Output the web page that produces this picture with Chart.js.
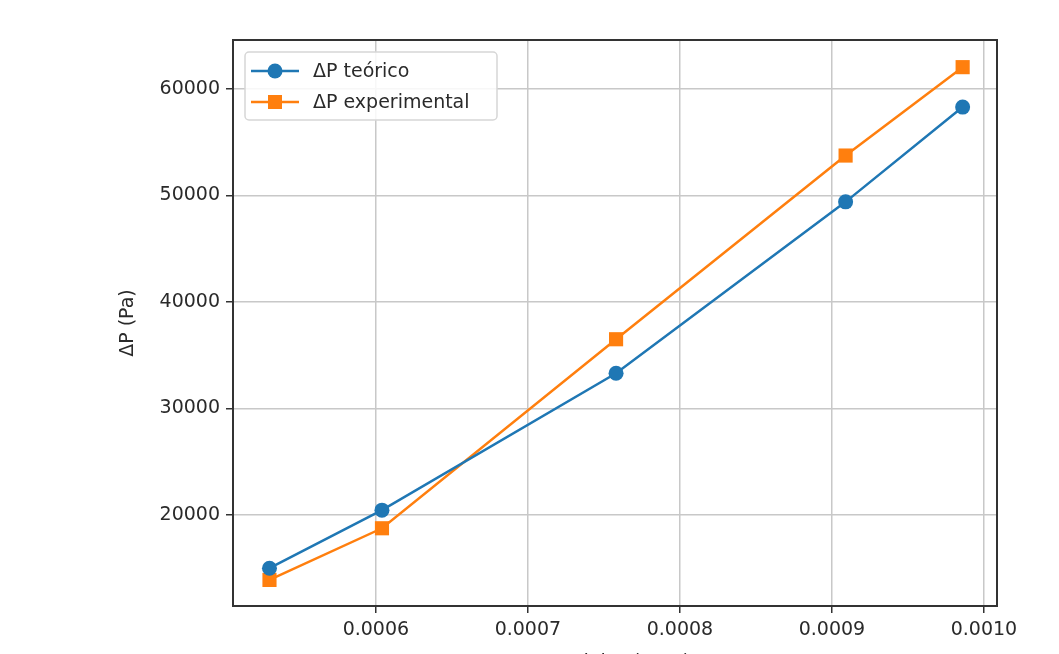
<!DOCTYPE html>
<html>
<head>
<meta charset="utf-8">
<script src="https://cdn.jsdelivr.net/npm/chart.js@4/dist/chart.umd.min.js"></script>
<style>
  html, body { margin: 0; padding: 0; background: #fff; overflow: hidden; }
  canvas { display: block; }
</style>
</head>
<body>
<canvas id="dpChart" width="1059" height="680"></canvas>
<script>
// DATA
const caudal = [0.000530, 0.000604, 0.000758, 0.000909, 0.000986];
const dpTeorico = [15000, 20450, 33300, 49400, 58300];
const dpExperimental = [13900, 18750, 36500, 53750, 62050];
const xTicks = [0.0006, 0.0007, 0.0008, 0.0009, 0.0010];
const yTicks = [20000, 30000, 40000, 50000, 60000];

const FONT = "'DejaVu Sans', sans-serif";
const BLUE = "#1f77b4";
const ORANGE = "#ff7f0e";

// frame around plot area
const frame = {
  id: "frame",
  afterDatasetsDraw(chart) {
    const a = chart.chartArea, ctx = chart.ctx;
    ctx.save();
    ctx.strokeStyle = "#333";
    ctx.lineWidth = 2;
    ctx.strokeRect(a.left, a.top, a.right - a.left, a.bottom - a.top);
    ctx.restore();
  }
};

// matplotlib style legend inside plot (upper left)
const innerLegend = {
  id: "innerLegend",
  afterDraw(chart) {
    const a = chart.chartArea, ctx = chart.ctx;
    const x0 = a.left + 12, y0 = a.top + 12, w = 252, h = 68;
    ctx.save();
    ctx.fillStyle = "rgba(255,255,255,0.85)";
    ctx.strokeStyle = "#d6d6d6";
    ctx.lineWidth = 1.5;
    ctx.beginPath();
    ctx.roundRect(x0, y0, w, h, 4);
    ctx.fill();
    ctx.stroke();
    chart.data.datasets.forEach((ds, i) => {
      const cy = y0 + 19 + i * 31;
      ctx.strokeStyle = ds.borderColor;
      ctx.lineWidth = 2.5;
      ctx.beginPath();
      ctx.moveTo(x0 + 6, cy);
      ctx.lineTo(x0 + 54, cy);
      ctx.stroke();
      ctx.fillStyle = ds.backgroundColor;
      if (ds.pointStyle === "rect") {
        ctx.fillRect(x0 + 30 - 7, cy - 7, 14, 14);
      } else {
        ctx.beginPath();
        ctx.arc(x0 + 30, cy, 7.5, 0, Math.PI * 2);
        ctx.fill();
      }
      ctx.fillStyle = "#2a2a2a";
      ctx.font = "19px " + FONT;
      ctx.textBaseline = "middle";
      ctx.fillText(ds.label, x0 + 68, cy + 1);
    });
    ctx.restore();
  }
};

const tickValues = arr => scale => { scale.ticks = arr.map(v => ({ value: v })); };

new Chart(document.getElementById("dpChart"), {
  type: "line",
  data: {
    datasets: [
      {
        label: "ΔP teórico",
        data: caudal.map((q, i) => ({ x: q, y: dpTeorico[i] })),
        borderColor: BLUE,
        backgroundColor: BLUE,
        borderWidth: 2.5,
        pointStyle: "circle",
        pointRadius: 7.5,
        pointBorderWidth: 0
      },
      {
        label: "ΔP experimental",
        data: caudal.map((q, i) => ({ x: q, y: dpExperimental[i] })),
        borderColor: ORANGE,
        backgroundColor: ORANGE,
        borderWidth: 2.5,
        pointStyle: "rect",
        pointRadius: 10,
        pointBorderWidth: 0
      }
    ]
  },
  options: {
    responsive: false,
    animation: false,
    layout: { padding: { top: 40, right: 62, left: 117, bottom: 0 } },
    plugins: {
      legend: { display: false },
      tooltip: { enabled: false }
    },
    scales: {
      x: {
        type: "linear",
        min: 0.000506,
        max: 0.0010086,
        afterBuildTicks: tickValues(xTicks),
        afterFit: s => { s.height = 74; },
        grid: { color: "#c8c8c8", lineWidth: 1.5, tickLength: 7, tickColor: "#333", drawTicks: true },
        border: { display: false },
        ticks: {
          color: "#2a2a2a",
          font: { family: FONT, size: 19 },
          padding: 6,
          maxRotation: 0,
          callback: v => v.toFixed(4)
        },
        title: {
          display: true,
          text: "Caudal Q (m³/s)",
          color: "#2a2a2a",
          font: { family: FONT, size: 19 },
          padding: { top: 0, bottom: 6 }
        }
      },
      y: {
        min: 11450,
        max: 64600,
        afterBuildTicks: tickValues(yTicks),
        afterFit: s => { s.width = 116; },
        grid: { color: "#c8c8c8", lineWidth: 1.5, tickLength: 7, tickColor: "#333", drawTicks: true },
        border: { display: false },
        ticks: {
          color: "#2a2a2a",
          font: { family: FONT, size: 19 },
          padding: 6,
          callback: v => String(v)
        },
        title: {
          display: true,
          text: "ΔP (Pa)",
          color: "#2a2a2a",
          font: { family: FONT, size: 19 },
          padding: { top: 0, bottom: 10 }
        }
      }
    }
  },
  plugins: [frame, innerLegend]
});
</script>
</body>
</html>
